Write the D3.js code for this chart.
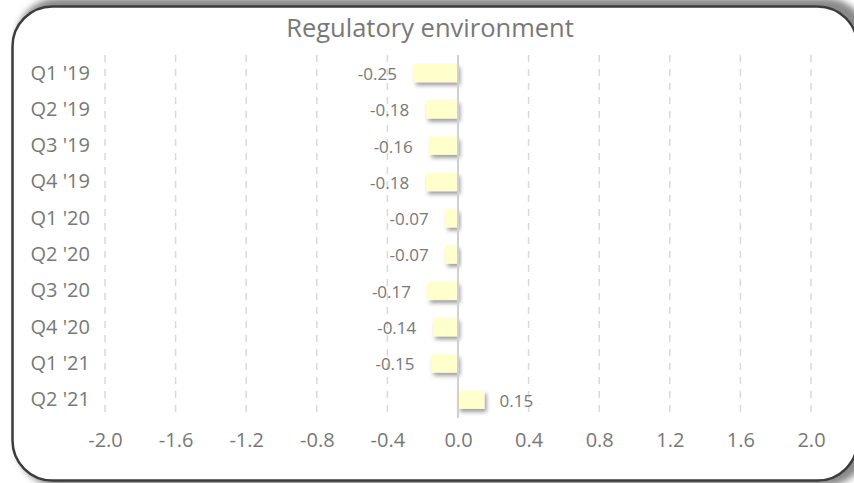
<!DOCTYPE html>
<html>
<head>
<meta charset="utf-8">
<script src="https://cdn.jsdelivr.net/npm/d3@7"></script>
<style>
  html, body { margin: 0; padding: 0; background: #fff; overflow: hidden; }
  svg { display: block; }
  text { font-family: "Open Sans", sans-serif; fill: #787878; }
</style>
</head>
<body>
<svg id="chart" width="854" height="483"></svg>
<script>
// Quarterly scores for the regulatory environment indicator
const quarters = ["Q1 '19", "Q2 '19", "Q3 '19", "Q4 '19", "Q1 '20", "Q2 '20", "Q3 '20", "Q4 '20", "Q1 '21", "Q2 '21"];
const scores = [-0.25, -0.18, -0.16, -0.18, -0.07, -0.07, -0.17, -0.14, -0.15, 0.15];
const xTicks = [-2.0, -1.6, -1.2, -0.8, -0.4, 0.0, 0.4, 0.8, 1.2, 1.6, 2.0];
const chartTitle = "Regulatory environment";

// plain hyphen for negative numbers
const fmt = p => v => d3.format(p)(v).replace("\u2212", "-");

const svg = d3.select("#chart");
const defs = svg.append("defs");

// soft shadow for the card
const cardShadow = defs.append("filter").attr("id", "cardShadow")
  .attr("x", "-10%").attr("y", "-10%").attr("width", "120%").attr("height", "120%");
cardShadow.append("feGaussianBlur").attr("stdDeviation", 3);

// drop shadow under bars
const barShadow = defs.append("filter").attr("id", "barShadow")
  .attr("x", "-30%").attr("y", "-40%").attr("width", "160%").attr("height", "200%");
barShadow.append("feDropShadow")
  .attr("dx", 2).attr("dy", 3).attr("stdDeviation", 2)
  .attr("flood-color", "#000").attr("flood-opacity", 0.4);

// card background, shadow and rounded border
svg.append("rect")
  .attr("x", 16).attr("y", -2).attr("width", 852).attr("height", 488)
  .attr("rx", 42).attr("fill", "#8a8a8a").attr("filter", "url(#cardShadow)");
svg.append("rect")
  .attr("x", 12.5).attr("y", 6.5).attr("width", 845).attr("height", 474)
  .attr("rx", 40).attr("fill", "#fff").attr("stroke", "#3c3c3c").attr("stroke-width", 2.5);

const x = d3.scaleLinear().domain([-2, 2]).range([105, 811]);
const y = d3.scaleBand().domain(quarters).range([55, 418])
  .paddingInner(0.5).paddingOuter(0.25);

// dashed vertical gridlines
svg.append("g").selectAll("line").data(xTicks.filter(t => t !== 0)).join("line")
  .attr("x1", d => x(d)).attr("x2", d => x(d))
  .attr("y1", 55).attr("y2", 418)
  .attr("stroke", "#d9d9d9").attr("stroke-width", 1.5)
  .attr("stroke-dasharray", "7,7");

// x axis tick labels
const xAxis = d3.axisBottom(x).tickValues(xTicks).tickFormat(fmt(".1f")).tickSize(0).tickPadding(0);
const gx = svg.append("g").attr("transform", "translate(0,433)").call(xAxis);
gx.select(".domain").remove();
gx.selectAll("text").attr("font-size", 20).attr("fill", "#7a7a7a").attr("font-family", "Open Sans");

// category labels
const yAxis = d3.axisLeft(y).tickSize(0).tickPadding(0);
const gy = svg.append("g").attr("transform", "translate(90,0)").call(yAxis);
gy.select(".domain").remove();
gy.selectAll("text").attr("font-size", 20).attr("fill", "#7a7a7a").attr("font-family", "Open Sans");

// bars
svg.append("g").selectAll("rect").data(quarters).join("rect")
  .attr("x", (d, i) => Math.min(x(0), x(scores[i])))
  .attr("width", (d, i) => Math.abs(x(scores[i]) - x(0)))
  .attr("y", d => y(d))
  .attr("height", y.bandwidth())
  .attr("fill", "#ffffcc")
  .attr("filter", "url(#barShadow)");

// zero axis line
svg.append("line")
  .attr("x1", x(0)).attr("x2", x(0)).attr("y1", 55).attr("y2", 418)
  .attr("stroke", "#d0d0d0").attr("stroke-width", 2);

// value labels
svg.append("g").selectAll("text").data(quarters).join("text")
  .attr("x", (d, i) => scores[i] < 0 ? x(scores[i]) - 17 : x(scores[i]) + 15)
  .attr("y", d => y(d) + y.bandwidth() / 2)
  .attr("dy", "0.4em")
  .attr("text-anchor", (d, i) => scores[i] < 0 ? "end" : "start")
  .attr("font-size", 17)
  .text((d, i) => fmt(".2f")(scores[i]));

// title
svg.append("text")
  .attr("x", 430).attr("y", 37)
  .attr("text-anchor", "middle")
  .attr("font-size", 25.5)
  .attr("fill", "#7a7a7a")
  .text(chartTitle);
</script>
</body>
</html>
